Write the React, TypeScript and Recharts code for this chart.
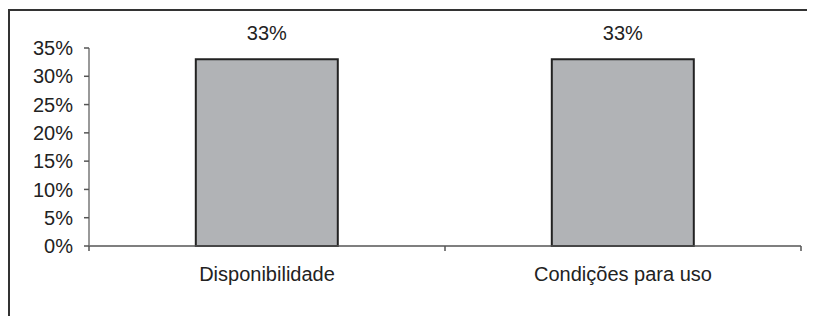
import React from 'react';
import { BarChart, Bar, XAxis, YAxis, LabelList } from 'recharts';

const categories = ['Disponibilidade', 'Condições para uso'];
const values = [33, 33];
const yTicks = [0, 5, 10, 15, 20, 25, 30, 35];

const data = categories.map((name, i) => ({ name, value: values[i] }));

const FONT = '"Liberation Sans", Arial, sans-serif';
const X_TICK_SIZE = 5;
const X_TICK_MARGIN = 16;

const CategoryTick = (props: any) => {
  const { x, y, payload, index, visibleTicksCount, width } = props;
  const half = width / visibleTicksCount / 2;
  const axisY = y - X_TICK_SIZE - X_TICK_MARGIN;
  const isLast = index === visibleTicksCount - 1;
  return (
    <g>
      <line x1={x - half} x2={x - half} y1={axisY} y2={axisY + X_TICK_SIZE} stroke="#555" strokeWidth={1.5} />
      {isLast && (
        <line x1={x + half} x2={x + half} y1={axisY} y2={axisY + X_TICK_SIZE} stroke="#555" strokeWidth={1.5} />
      )}
      <text x={x} y={y} dy="0.71em" textAnchor="middle" fill="#222" fontSize={20} fontFamily={FONT}>
        {payload.value}
      </text>
    </g>
  );
};

export default function App() {
  return (
    <div style={{ paddingTop: 1 }}>
      <div
        style={{
          width: 805,
          height: 305,
          borderLeft: '2px solid #333',
          borderTop: '2px solid #333',
          background: '#fff',
        }}
      >
        <BarChart
          width={805}
          height={295}
          data={data}
          margin={{ top: 37, right: 14, bottom: 20, left: 0 }}
          barCategoryGap="30%"
        >
          <XAxis
            dataKey="name"
            height={40}
            tickLine={false}
            tickSize={X_TICK_SIZE}
            tickMargin={X_TICK_MARGIN}
            axisLine={{ stroke: '#555', strokeWidth: 1.5 }}
            tick={<CategoryTick />}
            interval={0}
          />
          <YAxis
            width={79}
            domain={[0, 35]}
            ticks={yTicks}
            interval={0}
            tickFormatter={(v: number) => `${v}%`}
            tickSize={5}
            tickMargin={11}
            axisLine={{ stroke: '#777', strokeWidth: 1.5 }}
            tickLine={{ stroke: '#555', strokeWidth: 1.5 }}
            tick={{ fill: '#222', fontSize: 20, fontFamily: FONT }}
          />
          <Bar dataKey="value" fill="#B1B3B6" stroke="#222" strokeWidth={2} isAnimationActive={false}>
            <LabelList
              dataKey="value"
              position="top"
              offset={19}
              formatter={(v: number) => `${v}%`}
              fill="#222"
              fontSize={20}
              fontFamily={FONT}
            />
          </Bar>
        </BarChart>
      </div>
    </div>
  );
}
